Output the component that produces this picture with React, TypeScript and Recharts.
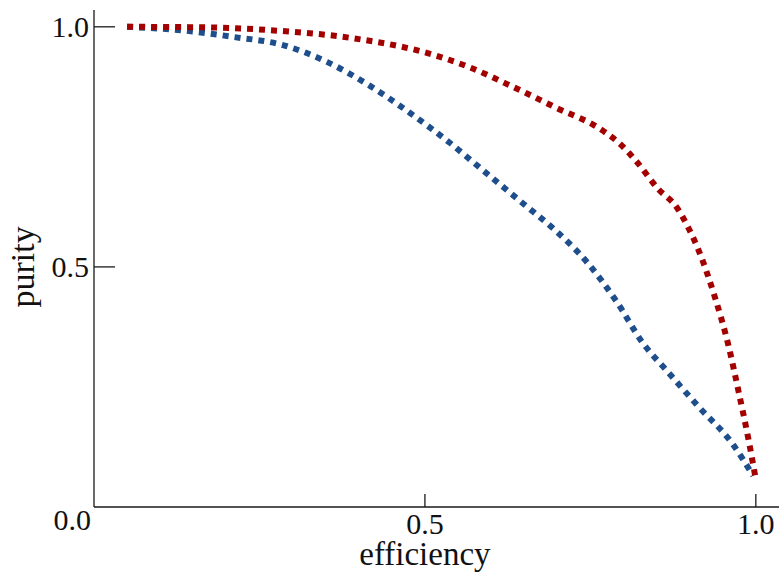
import React from 'react';
import { LineChart, Line, XAxis, YAxis } from 'recharts';

const redEff = [0.05, 0.165, 0.276, 0.387, 0.512, 0.565, 0.633, 0.699, 0.764, 0.795, 0.82, 0.852, 0.881, 0.899, 0.914, 0.938, 0.958, 0.974, 0.989, 0.999];
const redPur = [1.0, 0.999, 0.992, 0.977, 0.942, 0.917, 0.875, 0.831, 0.788, 0.756, 0.719, 0.663, 0.623, 0.579, 0.533, 0.4375, 0.34, 0.24, 0.14, 0.065];

const blueEff = [0.05, 0.137, 0.21, 0.284, 0.352, 0.417, 0.477, 0.538, 0.58, 0.651, 0.693, 0.746, 0.79, 0.829, 0.866, 0.914, 0.964, 0.996];
const bluePur = [1.0, 0.992, 0.979, 0.9625, 0.927, 0.877, 0.821, 0.758, 0.71, 0.629, 0.581, 0.508, 0.427, 0.342, 0.283, 0.208, 0.133, 0.065];

const xTicks = [0.5, 1.0];
const yTicks = [0, 0.5, 1.0];
const tickLabels: Record<string, string> = { '0': '0.0', '0.5': '0.5', '1': '1.0' };

const redData = redEff.map((e, i) => ({ eff: e, pur: redPur[i] }));
const blueData = blueEff.map((e, i) => ({ eff: e, pur: bluePur[i] }));

const FONT = '"Liberation Serif", "Times New Roman", serif';
const AX = '#1a1a1a';
const DOMAIN_MAX = 1.035;

const YTick = (props: any) => {
  const { x, payload } = props;
  const y = payload.coordinate;
  const v = payload.value;
  const ax = x + 5;
  return (
    <g>
      {v !== 0 && <line x1={ax} x2={ax + 21} y1={y} y2={y} stroke={AX} strokeWidth={1.3} />}
      <text
        x={v === 0 ? x + 2 : x}
        y={v === 0 ? y + 23 : y + 10.5}
        textAnchor="end"
        fontFamily={FONT}
        fontSize={30}
        fill="#111"
      >
        {tickLabels[String(v)]}
      </text>
    </g>
  );
};

const XTick = (props: any) => {
  const { y, payload } = props;
  const x = payload.coordinate;
  const v = payload.value;
  return (
    <g>
      <line x1={x} x2={x} y1={y - 13} y2={y} stroke={AX} strokeWidth={1.3} />
      <text x={x} y={y + 27} textAnchor="middle" fontFamily={FONT} fontSize={30} fill="#111">
        {tickLabels[String(v)]}
      </text>
    </g>
  );
};

const XLabel = (props: any) => {
  const vb = props.viewBox || {};
  const cx = vb.x + (0.5 / DOMAIN_MAX) * vb.width;
  return (
    <text x={cx} y={565} textAnchor="middle" fontFamily={FONT} fontSize={33} fill="#111">
      efficiency
    </text>
  );
};

const YLabel = (props: any) => {
  const vb = props.viewBox || {};
  const cy = vb.y + vb.height - (0.5 / DOMAIN_MAX) * vb.height;
  return (
    <text
      x={34}
      y={cy}
      transform={`rotate(-90, 34, ${cy})`}
      textAnchor="middle"
      fontFamily={FONT}
      fontSize={34}
      fill="#111"
    >
      purity
    </text>
  );
};

export default function App() {
  return (
    <div style={{ position: 'absolute', left: 0, top: 0, width: 779, height: 576, background: '#fff' }}>
      <LineChart width={779} height={576} margin={{ top: 10, right: 0, bottom: 0, left: 0 }}>
        <XAxis
          type="number"
          dataKey="eff"
          domain={[0, DOMAIN_MAX]}
          ticks={xTicks}
          height={69}
          tickSize={0}
          tickMargin={0}
          tickLine={false}
          tick={<XTick />}
          axisLine={{ stroke: AX, strokeWidth: 1.3 }}
          allowDataOverflow
          label={<XLabel />}
        />
        <YAxis
          type="number"
          dataKey="pur"
          domain={[0, DOMAIN_MAX]}
          ticks={yTicks}
          width={94}
          tickSize={0}
          tickMargin={5}
          tickLine={false}
          tick={<YTick />}
          axisLine={{ stroke: AX, strokeWidth: 1.3 }}
          allowDataOverflow
          label={<YLabel />}
        />
        <Line
          data={blueData}
          dataKey="pur"
          type="monotone"
          stroke="#1f4e8c"
          strokeWidth={6}
          strokeDasharray="6 6"
          dot={false}
          activeDot={false}
          isAnimationActive={false}
        />
        <Line
          data={redData}
          dataKey="pur"
          type="monotone"
          stroke="#a30000"
          strokeWidth={6}
          strokeDasharray="6 6"
          dot={false}
          activeDot={false}
          isAnimationActive={false}
        />
      </LineChart>
    </div>
  );
}
